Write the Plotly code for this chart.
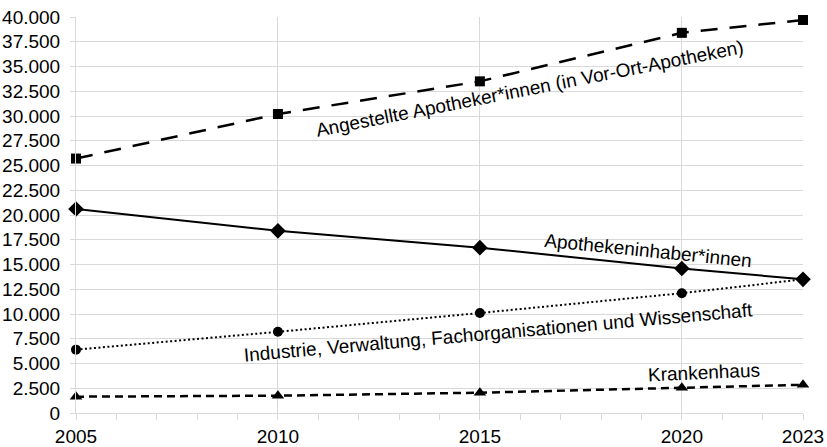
import plotly.graph_objects as go

years = [2005, 2010, 2015, 2020, 2023]
year_labels = [2005, 2010, 2015, 2020, 2023]

angestellte = [25700, 30200, 33500, 38400, 39700]
inhaber = [20600, 18400, 16700, 14600, 13500]
industrie = [6400, 8200, 10100, 12100, 13500]
krankenhaus = [1650, 1750, 2050, 2560, 2850]

label_angestellte = "Angestellte Apotheker*innen (in Vor-Ort-Apotheken)"
label_inhaber = "Apothekeninhaber*innen"
label_industrie = "Industrie, Verwaltung, Fachorganisationen und Wissenschaft"
label_krankenhaus = "Krankenhaus"

FONT = "Liberation Sans, Arial, sans-serif"
GRID = "#d9d9d9"
FS = 19

fig = go.Figure()

fig.add_trace(go.Scatter(
    x=years, y=angestellte, mode="lines+markers", name=label_angestellte,
    line=dict(color="black", width=2.5, dash="17px,12px"),
    marker=dict(symbol="square", size=10, color="black"),
    cliponaxis=False,
))
fig.add_trace(go.Scatter(
    x=years, y=inhaber, mode="lines+markers", name=label_inhaber,
    line=dict(color="black", width=2),
    marker=dict(symbol="diamond", size=12, color="black"),
    cliponaxis=False,
))
fig.add_trace(go.Scatter(
    x=years, y=industrie, mode="lines+markers", name=label_industrie,
    line=dict(color="black", width=2, dash="2px,2.5px"),
    marker=dict(symbol="circle", size=10, color="black"),
    cliponaxis=False,
))
fig.add_trace(go.Scatter(
    x=years, y=krankenhaus, mode="lines+markers", name=label_krankenhaus,
    line=dict(color="black", width=2.5, dash="8px,5px"),
    marker=dict(symbol="triangle-up", size=11, color="black"),
    cliponaxis=False,
))

ann_font = dict(family=FONT, size=FS, color="black")
annotations = [
    dict(x=2016.24, y=32810, text=label_angestellte, textangle=-11.1),
    dict(x=2019.16, y=16400, text=label_inhaber, textangle=5.7),
    dict(x=2015.45, y=8100, text=label_industrie, textangle=-5.1),
    dict(x=2020.54, y=4050, text=label_krankenhaus, textangle=-2.5),
]
for a in annotations:
    fig.add_annotation(xref="x", yref="y", showarrow=False,
                       xanchor="center", yanchor="middle", font=ann_font, **a)

all_years = list(range(years[0], years[-1] + 1))
fig.update_xaxes(
    range=[years[0], years[-1]],
    tickmode="array",
    tickvals=all_years,
    ticktext=[str(y) if y in year_labels else "" for y in all_years],
    ticks="outside", ticklen=6, tickcolor=GRID, tickwidth=1,
    showgrid=False,
    minor=dict(tickmode="linear", tick0=years[0], dtick=5,
               showgrid=True, gridcolor=GRID, gridwidth=1, ticks=""),
    showline=True, linecolor=GRID, linewidth=1,
    zeroline=False, automargin=False,
    tickfont=dict(family=FONT, size=FS, color="black"),
)
fig.update_yaxes(
    range=[0, 40000], dtick=2500, tick0=0,
    tickformat=",d",
    ticks="outside", ticklen=5, tickcolor=GRID, tickwidth=1,
    showgrid=True, gridcolor=GRID, gridwidth=1,
    showline=True, linecolor=GRID, linewidth=1,
    zeroline=False, automargin=False,
    ticklabelstandoff=6,
    tickfont=dict(family=FONT, size=FS, color="black"),
)

fig.update_layout(
    width=827, height=447,
    margin=dict(l=76, r=24, t=17, b=34),
    paper_bgcolor="white", plot_bgcolor="white",
    showlegend=False,
    separators=",.",
    font=dict(family=FONT, size=FS, color="black"),
)

fig.write_html("out.html",
               config={"displayModeBar": False},
               post_script="document.body.style.margin='0';document.body.style.overflow='hidden';")
